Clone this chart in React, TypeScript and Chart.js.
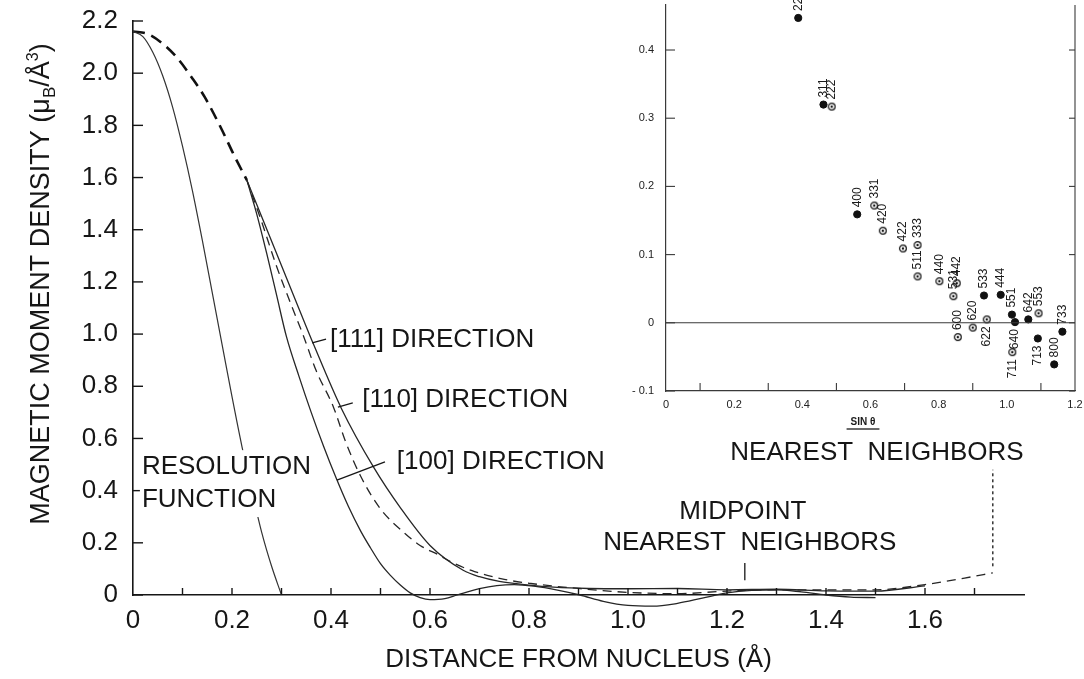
import { useEffect, useRef } from 'react';
import { Chart, registerables } from 'chart.js';
Chart.register(...registerables);

const FONT = '"Liberation Sans", Arial, Helvetica, sans-serif';
const INK = '#161616';

// ---------------- main chart: axes ----------------
const xTicks = [0, 0.2, 0.4, 0.6, 0.8, 1.0, 1.2, 1.4, 1.6];
const xTickLabels = ['0', '0.2', '0.4', '0.6', '0.8', '1.0', '1.2', '1.4', '1.6'];
const xMinorTicks = [0.1, 0.2, 0.3, 0.4, 0.5, 0.6, 0.7, 0.8, 0.9, 1.0, 1.1, 1.2, 1.3, 1.4, 1.5, 1.6, 1.7];
const yTicks = [0, 0.2, 0.4, 0.6, 0.8, 1.0, 1.2, 1.4, 1.6, 1.8, 2.0, 2.2];
const yTickLabels = ['0', '0.2', '0.4', '0.6', '0.8', '1.0', '1.2', '1.4', '1.6', '1.8', '2.0', '2.2'];

// ---------------- main chart: curves ----------------
const resolutionX = [0, 0.02, 0.04, 0.06, 0.08, 0.1, 0.12, 0.14, 0.16, 0.18, 0.2, 0.22, 0.24, 0.26, 0.28, 0.3];
const resolutionY = [2.16, 2.14, 2.08, 1.99, 1.87, 1.72, 1.55, 1.36, 1.16, 0.96, 0.76, 0.57, 0.4, 0.24, 0.11, 0];

// common (heavy dashed) part shared by the three directions
const commonX = [0, 0.03, 0.065, 0.09, 0.12, 0.145, 0.178, 0.204, 0.23];
const commonY = [2.16, 2.15, 2.105, 2.057, 1.98, 1.908, 1.789, 1.686, 1.59];

const dir111X = [0.23, 0.277, 0.323, 0.366, 0.421, 0.486, 0.54, 0.6, 0.667, 0.7, 0.74, 0.8, 0.85, 0.92, 1.0, 1.1, 1.2, 1.3, 1.4, 1.5, 1.6];
const dir111Y = [1.59, 1.37, 1.155, 0.955, 0.715, 0.49, 0.335, 0.19, 0.095, 0.07, 0.052, 0.038, 0.03, 0.025, 0.024, 0.025, 0.02, 0.022, 0.016, 0.015, 0.035];

const dir110X = [0.23, 0.26, 0.29, 0.32, 0.343, 0.37, 0.405, 0.43, 0.46, 0.5, 0.55, 0.58, 0.616, 0.65, 0.69, 0.75, 0.8, 0.9, 1.0, 1.1, 1.2, 1.3, 1.4, 1.5, 1.6, 1.68, 1.737];
const dir110Y = [1.59, 1.43, 1.26, 1.11, 1.0, 0.86, 0.72, 0.585, 0.455, 0.33, 0.235, 0.19, 0.155, 0.12, 0.09, 0.06, 0.045, 0.025, 0.01, 0.005, 0.015, 0.02, 0.02, 0.02, 0.04, 0.065, 0.085];

const dir100X = [0.23, 0.25, 0.27, 0.29, 0.31, 0.335, 0.36, 0.385, 0.41, 0.435, 0.46, 0.48, 0.5, 0.52, 0.54, 0.56, 0.58, 0.6, 0.63, 0.655, 0.7, 0.735, 0.77, 0.81, 0.86, 0.903, 0.95, 1.0, 1.05, 1.1, 1.15, 1.2, 1.25, 1.3, 1.35, 1.4, 1.45, 1.5];
const dir100Y = [1.59, 1.46, 1.31, 1.15, 0.99, 0.84, 0.7, 0.57, 0.45, 0.34, 0.245, 0.18, 0.12, 0.075, 0.038, 0.008, -0.01, -0.018, -0.014, 0, 0.024, 0.036, 0.04, 0.034, 0.018, 0, -0.024, -0.04, -0.043, -0.032, -0.012, 0.008, 0.018, 0.02, 0.012, 0, -0.008, -0.01];

// annotations (data coordinates)
const annotTexts = ['[111] DIRECTION', '[110] DIRECTION', '[100] DIRECTION', 'MIDPOINT', 'NEAREST  NEIGHBORS', 'NEAREST  NEIGHBORS'];
const annotX = [0.398, 0.463, 0.533, 1.232, 1.246, 1.503];
const annotY = [0.977, 0.747, 0.51, 0.318, 0.199, 0.544];
const annotAlign = ['left', 'left', 'left', 'center', 'center', 'center'];
const resolutionLabel = ['RESOLUTION', 'FUNCTION'];
const resolutionLabelX = 0.018;
const resolutionLabelY = [0.49, 0.364];
const pointerLines = [
  [[0.362, 0.966], [0.39, 0.981]],
  [[0.414, 0.72], [0.444, 0.736]],
  [[0.412, 0.44], [0.509, 0.51]],
  [[1.236, 0.057], [1.236, 0.123]],
];
const neighborLine = [[1.737, 0.11], [1.737, 0.48]];

// ---------------- inset ----------------
const hkl = ['220', '311', '222', '400', '331', '420', '422', '333', '511', '440', '531', '442', '600', '620', '533', '622', '444', '551', '640', '711', '642', '553', '713', '800', '733'];
const sinTheta = [0.388, 0.462, 0.486, 0.561, 0.611, 0.636, 0.695, 0.738, 0.738, 0.802, 0.843, 0.853, 0.856, 0.9, 0.933, 0.941, 0.982, 1.015, 1.024, 1.016, 1.063, 1.093, 1.091, 1.139, 1.163];
const amplitude = [0.447, 0.32, 0.317, 0.159, 0.172, 0.135, 0.109, 0.114, 0.068, 0.061, 0.039, 0.058, -0.021, -0.007, 0.04, 0.005, 0.041, 0.012, 0.001, -0.043, 0.005, 0.014, -0.023, -0.061, -0.013];
const filled = [1, 1, 0, 1, 0, 0, 0, 0, 0, 0, 0, 0, 0, 0, 1, 0, 1, 1, 1, 0, 1, 0, 1, 1, 1];
const labelSide = ['up', 'up', 'up', 'up', 'up', 'up', 'up', 'up', 'up', 'up', 'up', 'up', 'up', 'up', 'up', 'down', 'up', 'up', 'down', 'down', 'up', 'up', 'down', 'up', 'up'];
const insetXTicks = [0, 0.2, 0.4, 0.6, 0.8, 1.0, 1.2];
const insetXTickLabels = ['0', '0.2', '0.4', '0.6', '0.8', '1.0', '1.2'];
const insetXMinor = [0.1, 0.3, 0.5, 0.7, 0.9, 1.1];
const insetYTicks = [-0.1, 0, 0.1, 0.2, 0.3, 0.4];
const insetYTickLabels = ['- 0.1', '0', '0.1', '0.2', '0.3', '0.4'];

function seg(ctx: CanvasRenderingContext2D, x1: number, y1: number, x2: number, y2: number) {
  ctx.beginPath();
  ctx.moveTo(x1, y1);
  ctx.lineTo(x2, y2);
  ctx.stroke();
}

function curve(xs: number[], ys: number[], style: any) {
  return {
    data: xs.map((x, i) => ({ x, y: ys[i] })),
    showLine: true,
    pointRadius: 0,
    fill: false,
    clip: false,
    cubicInterpolationMode: 'monotone',
    borderColor: '#262626',
    borderWidth: 1.3,
    ...style,
  };
}

function makeOpenMarker() {
  const c = document.createElement('canvas');
  c.width = 10;
  c.height = 10;
  const g = c.getContext('2d')!;
  g.fillStyle = '#fff';
  g.strokeStyle = '#111';
  g.lineWidth = 1.2;
  g.beginPath();
  g.arc(5, 5, 3.4, 0, Math.PI * 2);
  g.fill();
  g.stroke();
  g.fillStyle = '#111';
  g.beginPath();
  g.arc(5, 5, 1.2, 0, Math.PI * 2);
  g.fill();
  return c;
}

const fitV = (w: number) => (s: any) => {
  s.width = w;
  s.paddingTop = 0;
  s.paddingBottom = 0;
};
const fitH = (h: number) => (s: any) => {
  s.height = h;
  s.paddingLeft = 0;
  s.paddingRight = 0;
};

const mainDecor = {
  id: 'mainDecor',
  afterDraw(chart: any) {
    const { ctx, chartArea, scales } = chart;
    const { left, bottom } = chartArea;
    const X = (v: number) => scales.x.getPixelForValue(v);
    const Y = (v: number) => scales.y.getPixelForValue(v);
    ctx.save();
    ctx.strokeStyle = INK;
    ctx.lineWidth = 1.4;
    yTicks.forEach((v) => seg(ctx, left, Y(v), left + 10, Y(v)));
    xMinorTicks.forEach((v) => seg(ctx, X(v), bottom, X(v), bottom - 7));

    // pointer lines
    ctx.lineWidth = 1.3;
    pointerLines.forEach((p) => seg(ctx, X(p[0][0]), Y(p[0][1]), X(p[1][0]), Y(p[1][1])));
    ctx.setLineDash([3, 3]);
    seg(ctx, X(neighborLine[0][0]), Y(neighborLine[0][1]), X(neighborLine[1][0]), Y(neighborLine[1][1]));
    ctx.setLineDash([]);

    // RESOLUTION FUNCTION label with white backing
    ctx.font = `26px ${FONT}`;
    ctx.textBaseline = 'middle';
    ctx.fillStyle = '#fff';
    const rx = X(resolutionLabelX);
    ctx.fillRect(rx - 2, Y(resolutionLabelY[0]) - 17, 175, Y(resolutionLabelY[1]) - Y(resolutionLabelY[0]) + 34);
    ctx.fillStyle = INK;
    ctx.textAlign = 'left';
    resolutionLabel.forEach((t, i) => ctx.fillText(t, rx, Y(resolutionLabelY[i])));

    annotTexts.forEach((t, i) => {
      ctx.textAlign = annotAlign[i] as CanvasTextAlign;
      ctx.fillText(t, X(annotX[i]), Y(annotY[i]));
    });

    // y axis title with sub/superscripts
    const parts = [
      { t: 'MAGNETIC MOMENT DENSITY (\u03BC', s: 27, dy: 0 },
      { t: 'B', s: 17, dy: 6 },
      { t: '/\u00C5', s: 27, dy: 0 },
      { t: '3', s: 16, dy: -11 },
      { t: ')', s: 27, dy: 0 },
    ];
    let total = 0;
    parts.forEach((p) => {
      ctx.font = `${p.s}px ${FONT}`;
      total += ctx.measureText(p.t).width;
    });
    ctx.translate(39, 284);
    ctx.rotate(-Math.PI / 2);
    ctx.textAlign = 'left';
    ctx.textBaseline = 'alphabetic';
    let cx = -total / 2;
    parts.forEach((p) => {
      ctx.font = `${p.s}px ${FONT}`;
      ctx.fillText(p.t, cx, 9.5 + p.dy);
      cx += ctx.measureText(p.t).width;
    });
    ctx.restore();
  },
};

const insetDecor = {
  id: 'insetDecor',
  afterDraw(chart: any) {
    const { ctx, chartArea, scales } = chart;
    const { left, right, top, bottom } = chartArea;
    const X = (v: number) => scales.x.getPixelForValue(v);
    const Y = (v: number) => scales.y.getPixelForValue(v);
    ctx.save();
    ctx.strokeStyle = '#3a3a3a';
    ctx.lineWidth = 1.1;
    seg(ctx, right, top, right, bottom);
    seg(ctx, left, Y(0), right, Y(0));
    insetYTicks.forEach((v) => {
      seg(ctx, left, Y(v), left + 9, Y(v));
      seg(ctx, right - 6, Y(v), right, Y(v));
    });
    insetXMinor.forEach((v) => seg(ctx, X(v), bottom, X(v), bottom - 8));

    ctx.fillStyle = '#1a1a1a';
    ctx.font = `12px ${FONT}`;
    ctx.textBaseline = 'middle';
    hkl.forEach((lab, i) => {
      const px = X(sinTheta[i]);
      const py = Y(amplitude[i]);
      ctx.save();
      if (labelSide[i] === 'up') {
        ctx.translate(px, py - 7);
        ctx.rotate(-Math.PI / 2);
        ctx.textAlign = 'left';
      } else {
        ctx.translate(px, py + 7);
        ctx.rotate(-Math.PI / 2);
        ctx.textAlign = 'right';
      }
      ctx.fillText(lab, 0, 0);
      ctx.restore();
    });

    // SIN theta title
    ctx.font = `bold 10px ${FONT}`;
    ctx.textAlign = 'center';
    const tx = X(0.578);
    const ty = bottom + 31;
    ctx.fillText('SIN \u03B8', tx, ty);
    const w = ctx.measureText('SIN \u03B8').width + 8;
    ctx.lineWidth = 1.3;
    seg(ctx, tx - w / 2, ty + 7, tx + w / 2, ty + 7);
    ctx.restore();
  },
};

export default function App() {
  const mainRef = useRef<HTMLCanvasElement>(null);
  const insetRef = useRef<HTMLCanvasElement>(null);

  useEffect(() => {
    const tickFont = { family: FONT, size: 26 };
    const main = new Chart(mainRef.current!, {
      type: 'scatter',
      data: {
        datasets: [
          curve(resolutionX, resolutionY, { borderColor: '#333', borderWidth: 1.2 }),
          curve(commonX, commonY, { borderColor: '#111', borderWidth: 2.6, borderDash: [12, 7] }),
          curve(dir111X, dir111Y, {}),
          curve(dir110X, dir110Y, { borderDash: [9, 6] }),
          curve(dir100X, dir100Y, {}),
        ] as any,
      },
      options: {
        responsive: false,
        animation: false,
        layout: { padding: { left: 0, right: 60, top: 21, bottom: 0 } },
        plugins: { legend: { display: false }, tooltip: { enabled: false } },
        scales: {
          x: {
            type: 'linear',
            min: 0,
            max: 1.8,
            afterFit: fitH(84),
            afterBuildTicks: (s: any) => {
              s.ticks = xTicks.map((v) => ({ value: v }));
            },
            ticks: {
              callback: (_v: any, i: number) => xTickLabels[i],
              font: tickFont,
              color: INK,
              padding: 10,
              maxRotation: 0,
              autoSkip: false,
            },
            grid: { display: true, drawOnChartArea: false, drawTicks: false },
            border: { display: true, color: INK, width: 1.6 },
            title: {
              display: true,
              text: 'DISTANCE FROM NUCLEUS (\u00C5)',
              font: { family: FONT, size: 26 },
              color: INK,
              padding: { top: 0, bottom: 4 },
            },
          },
          y: {
            type: 'linear',
            min: 0,
            max: 2.2,
            afterFit: fitV(133),
            afterBuildTicks: (s: any) => {
              s.ticks = yTicks.map((v) => ({ value: v }));
            },
            ticks: {
              callback: (_v: any, i: number) => yTickLabels[i],
              font: tickFont,
              color: INK,
              padding: 15,
              autoSkip: false,
            },
            grid: { display: true, drawOnChartArea: false, drawTicks: false },
            border: { display: true, color: INK, width: 1.6 },
          },
        },
      } as any,
      plugins: [mainDecor],
    });

    const openMarker = makeOpenMarker();
    const idxFilled = hkl.map((_, i) => i).filter((i) => filled[i] === 1);
    const idxOpen = hkl.map((_, i) => i).filter((i) => filled[i] === 0);
    const insetFont = { family: FONT, size: 11 };
    const inset = new Chart(insetRef.current!, {
      type: 'scatter',
      data: {
        datasets: [
          {
            data: idxFilled.map((i) => ({ x: sinTheta[i], y: amplitude[i] })),
            pointRadius: 3.6,
            pointStyle: 'circle',
            backgroundColor: '#111',
            borderColor: '#111',
          },
          {
            data: idxOpen.map((i) => ({ x: sinTheta[i], y: amplitude[i] })),
            pointRadius: 4,
            pointStyle: openMarker,
          },
        ] as any,
      },
      options: {
        responsive: false,
        animation: false,
        layout: { padding: { left: 0, right: 9, top: 0, bottom: 0 } },
        plugins: { legend: { display: false }, tooltip: { enabled: false } },
        scales: {
          x: {
            type: 'linear',
            min: 0,
            max: 1.2,
            afterFit: fitH(49),
            afterBuildTicks: (s: any) => {
              s.ticks = insetXTicks.map((v) => ({ value: v }));
            },
            ticks: {
              callback: (_v: any, i: number) => insetXTickLabels[i],
              font: insetFont,
              color: '#222',
              padding: 7,
              maxRotation: 0,
              autoSkip: false,
            },
            grid: { display: true, drawOnChartArea: false, drawTicks: false },
            border: { display: true, color: '#3a3a3a', width: 1.2 },
          },
          y: {
            type: 'linear',
            min: -0.1,
            max: 0.466,
            afterFit: fitV(66),
            afterBuildTicks: (s: any) => {
              s.ticks = insetYTicks.map((v) => ({ value: v }));
            },
            ticks: {
              callback: (_v: any, i: number) => insetYTickLabels[i],
              font: insetFont,
              color: '#222',
              padding: 12,
              autoSkip: false,
            },
            grid: { display: true, drawOnChartArea: false, drawTicks: false },
            border: { display: true, color: '#3a3a3a', width: 1.2 },
          },
        },
      } as any,
      plugins: [insetDecor],
    });

    return () => {
      main.destroy();
      inset.destroy();
    };
  }, []);

  return (
    <div style={{ position: 'fixed', left: 0, top: 0, width: 1084, height: 679, background: '#fff', overflow: 'hidden' }}>
      <canvas ref={mainRef} width={1084} height={679} style={{ position: 'absolute', left: 0, top: 0 }} />
      <canvas ref={insetRef} width={484} height={440} style={{ position: 'absolute', left: 600, top: 0 }} />
    </div>
  );
}
